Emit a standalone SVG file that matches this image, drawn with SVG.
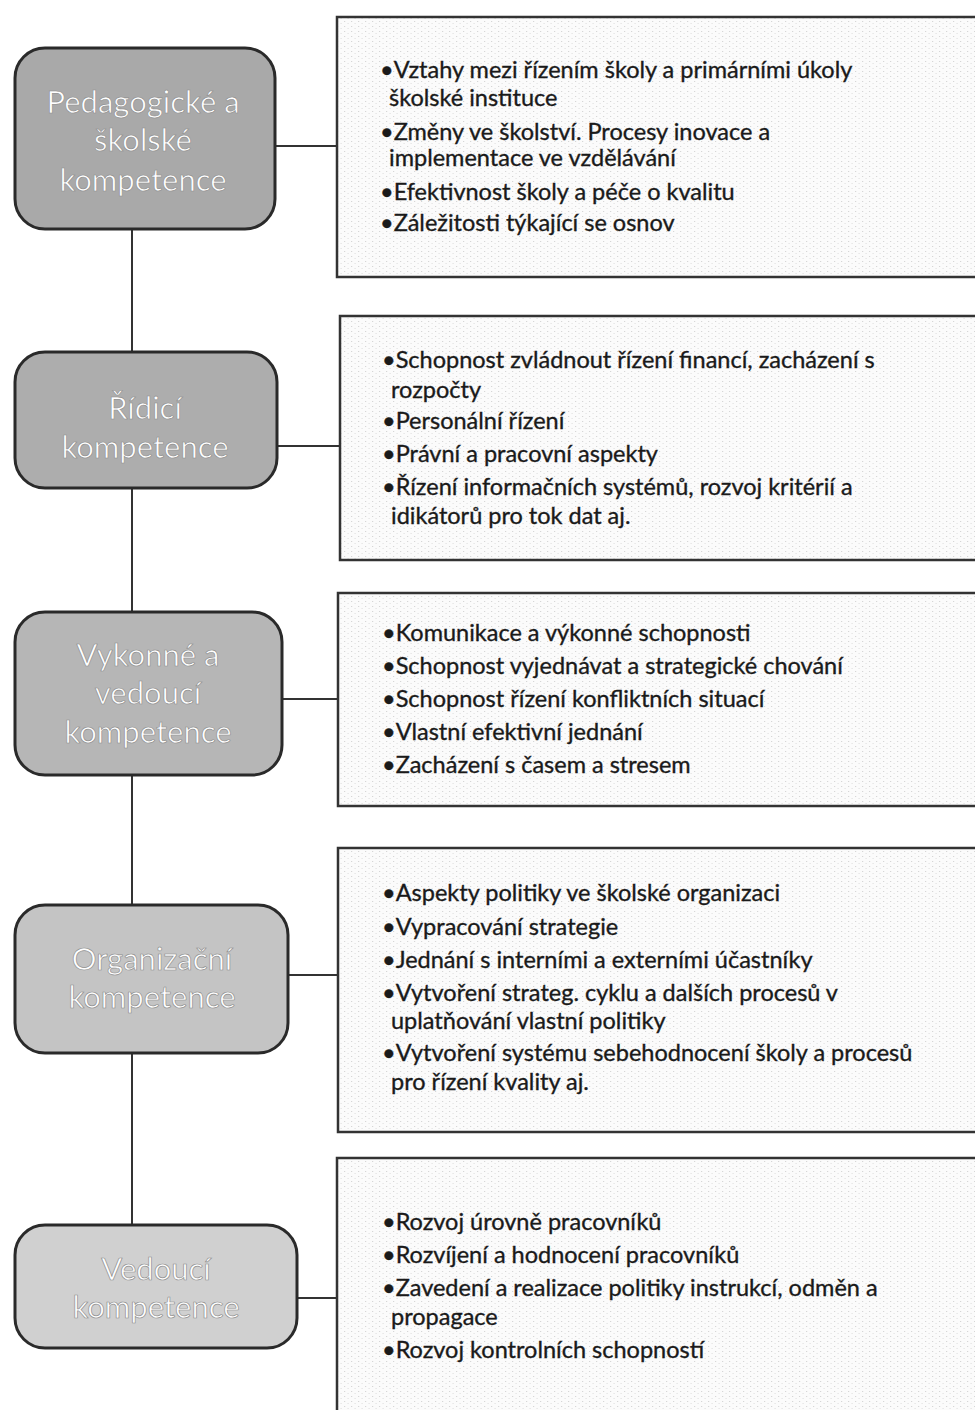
<svg xmlns="http://www.w3.org/2000/svg" width="975" height="1410" viewBox="0 0 975 1410">
<style>
.conn{stroke:#333;stroke-width:2;fill:none}
.lbox{stroke:#2a2a2a;stroke-width:3}
.ltxt{font-family:Lato,"Liberation Sans",sans-serif;font-size:31px;fill:#ffffff;stroke:#8e8e8e;stroke-width:0.7;text-anchor:middle}
.rbox{fill:url(#dots);stroke:#333;stroke-width:2.5}
.rtxt{font-family:Lato,"Liberation Sans",sans-serif;font-size:23.5px;fill:#1a1a1a;stroke:#1a1a1a;stroke-width:0.35}
</style>
<defs>
<pattern id="dots" width="7" height="5" patternUnits="userSpaceOnUse">
<rect width="7" height="5" fill="#fbfbfb"/>
<rect x="1" y="1" width="1.2" height="1" fill="#d6d6d6"/>
<rect x="4.5" y="3" width="1.2" height="1" fill="#e2e2e2"/>
</pattern>
</defs>
<rect width="975" height="1410" fill="#ffffff"/>
<g id="connectors">
<line class="conn" x1="132" y1="228" x2="132" y2="1226"/>
<line class="conn" x1="275" y1="146" x2="337" y2="146"/>
<line class="conn" x1="277" y1="446" x2="340" y2="446"/>
<line class="conn" x1="282" y1="699" x2="338" y2="699"/>
<line class="conn" x1="288" y1="975" x2="338" y2="975"/>
<line class="conn" x1="297" y1="1298" x2="337" y2="1298"/>
</g>
<g id="node1">
<rect class="lbox" x="15" y="48" width="260" height="181" rx="30" fill="#a9a9a9"/>
<text class="ltxt" x="143" y="113">Pedagogické a</text>
<text class="ltxt" x="143" y="151">školské</text>
<text class="ltxt" x="143" y="191">kompetence</text>
</g>
<g id="node2">
<rect class="lbox" x="15" y="352" width="262" height="136" rx="30" fill="#adadad"/>
<text class="ltxt" x="145" y="419">Řídicí</text>
<text class="ltxt" x="145" y="458">kompetence</text>
</g>
<g id="node3">
<rect class="lbox" x="15" y="612" width="267" height="163" rx="30" fill="#b6b6b6"/>
<text class="ltxt" x="148" y="666">Vykonné a</text>
<text class="ltxt" x="148" y="704">vedoucí</text>
<text class="ltxt" x="148" y="743">kompetence</text>
</g>
<g id="node4">
<rect class="lbox" x="15" y="905" width="273" height="148" rx="30" fill="#c4c4c4"/>
<text class="ltxt" x="152" y="970">Organizační</text>
<text class="ltxt" x="152" y="1008">kompetence</text>
</g>
<g id="node5">
<rect class="lbox" x="15" y="1225" width="282" height="123" rx="30" fill="#d0d0d0"/>
<text class="ltxt" x="156" y="1280">Vedoucí</text>
<text class="ltxt" x="156" y="1318">kompetence</text>
</g>
<g id="text1">
<rect class="rbox" x="337" y="17" width="650" height="260"/>
<text class="rtxt" x="380" y="78">•Vztahy mezi řízením školy a primárními úkoly</text>
<text class="rtxt" x="389" y="106">školské instituce</text>
<text class="rtxt" x="380" y="140">•Změny ve školství. Procesy inovace a</text>
<text class="rtxt" x="389" y="166">implementace ve vzdělávání</text>
<text class="rtxt" x="380" y="200">•Efektivnost školy a péče o kvalitu</text>
<text class="rtxt" x="380" y="231">•Záležitosti týkající se osnov</text>
</g>
<g id="text2">
<rect class="rbox" x="340" y="316" width="650" height="244"/>
<text class="rtxt" x="382" y="368">•Schopnost zvládnout řízení financí, zacházení s</text>
<text class="rtxt" x="391" y="398">rozpočty</text>
<text class="rtxt" x="382" y="429">•Personální řízení</text>
<text class="rtxt" x="382" y="462">•Právní a pracovní aspekty</text>
<text class="rtxt" x="382" y="495">•Řízení informačních systémů, rozvoj kritérií a</text>
<text class="rtxt" x="391" y="524">idikátorů pro tok dat aj.</text>
</g>
<g id="text3">
<rect class="rbox" x="338" y="593" width="650" height="213"/>
<text class="rtxt" x="382" y="641">•Komunikace a výkonné schopnosti</text>
<text class="rtxt" x="382" y="674">•Schopnost vyjednávat a strategické chování</text>
<text class="rtxt" x="382" y="707">•Schopnost řízení konfliktních situací</text>
<text class="rtxt" x="382" y="740">•Vlastní efektivní jednání</text>
<text class="rtxt" x="382" y="773">•Zacházení s časem a stresem</text>
</g>
<g id="text4">
<rect class="rbox" x="338" y="848" width="650" height="284"/>
<text class="rtxt" x="382" y="901">•Aspekty politiky ve školské organizaci</text>
<text class="rtxt" x="382" y="935">•Vypracování strategie</text>
<text class="rtxt" x="382" y="968">•Jednání s interními a externími účastníky</text>
<text class="rtxt" x="382" y="1001">•Vytvoření strateg. cyklu a dalších procesů v</text>
<text class="rtxt" x="391" y="1029">uplatňování vlastní politiky</text>
<text class="rtxt" x="382" y="1061">•Vytvoření systému sebehodnocení školy a procesů</text>
<text class="rtxt" x="391" y="1090">pro řízení kvality aj.</text>
</g>
<g id="text5">
<rect class="rbox" x="337" y="1158" width="650" height="270"/>
<text class="rtxt" x="382" y="1230">•Rozvoj úrovně pracovníků</text>
<text class="rtxt" x="382" y="1263">•Rozvíjení a hodnocení pracovníků</text>
<text class="rtxt" x="382" y="1296">•Zavedení a realizace politiky instrukcí, odměn a</text>
<text class="rtxt" x="391" y="1325">propagace</text>
<text class="rtxt" x="382" y="1358">•Rozvoj kontrolních schopností</text>
</g>
</svg>
